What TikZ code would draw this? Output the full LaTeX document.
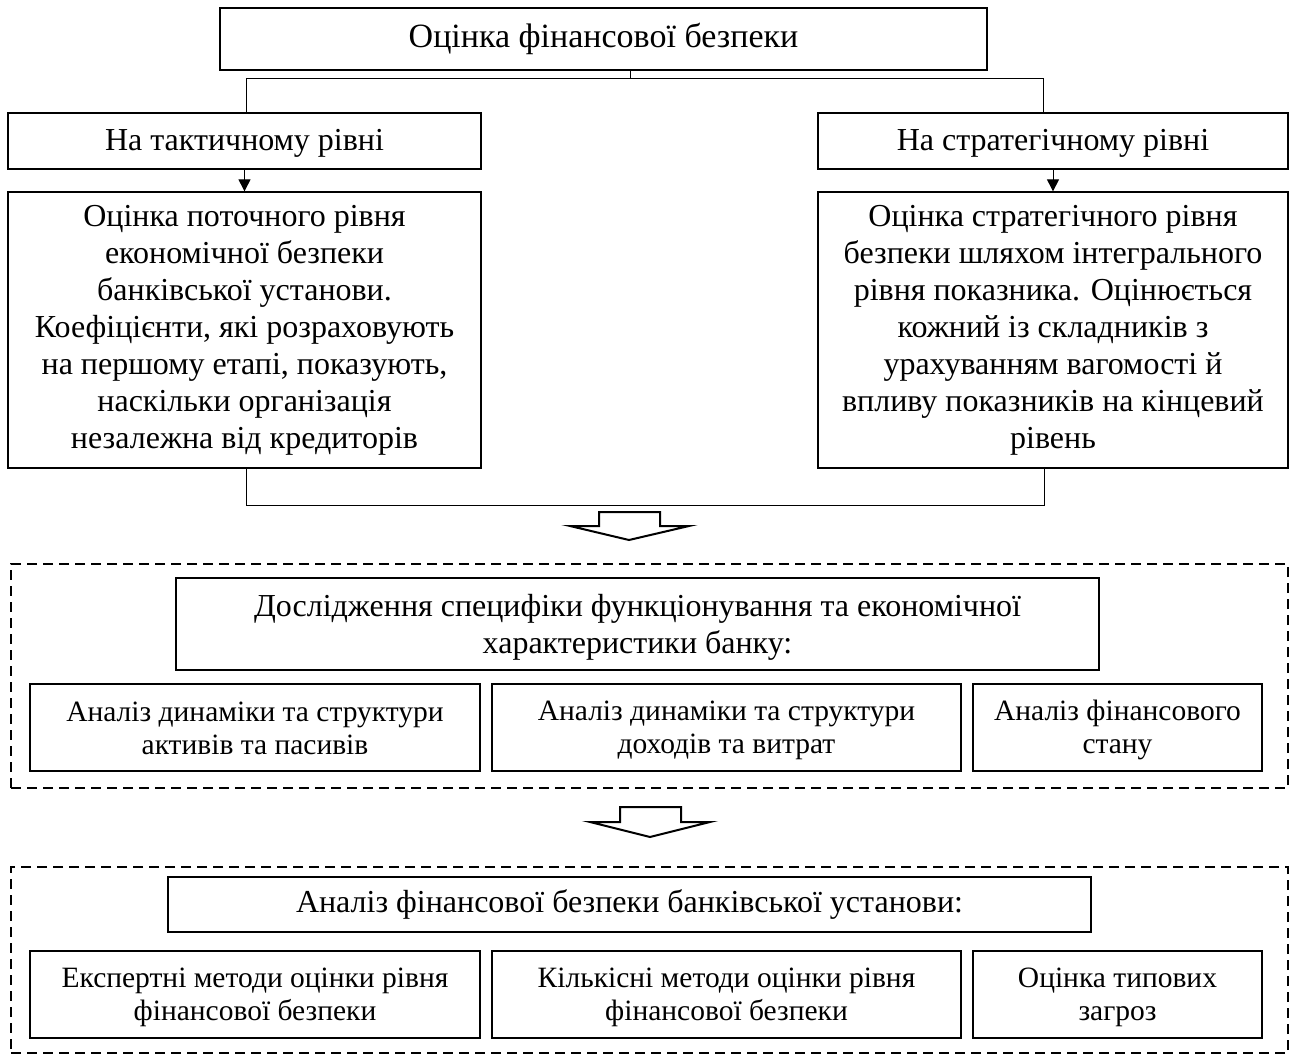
\documentclass[tikz,border=0pt]{standalone}
\usepackage{fontspec}
\setmainfont{Liberation Serif}
\usetikzlibrary{arrows.meta}
\newcommand{\topst}[1]{\rule{0pt}{#1}}
\newcommand{\botst}[1]{\rule[-#1]{0pt}{#1}}
\begin{document}
\begin{tikzpicture}[x=1pt,y=-1pt,
  box/.style={draw,line width=1.3pt,inner sep=0pt,align=center,font=\fontsize{32}{37}\selectfont},
  rowbox/.style={box,font=\fontsize{29.5}{33}\selectfont},
  dashbox/.style={draw,line width=1.6pt,dash pattern=on 10pt off 6pt,inner sep=0pt},
  conn/.style={line width=1pt},
  blockarrow/.style={line width=2pt,line join=miter}]
\useasboundingbox (0,0) rectangle (1296,1057);
% top
\node[box,minimum width=767pt,minimum height=62pt,font=\fontsize{34}{39}\selectfont] (top) at (603.5,39) {Оцінка фінансової безпеки};
\node[box,minimum width=473pt,minimum height=56pt] (tact) at (244.5,141) {\topst{25pt}На тактичному рівні\botst{5pt}};
\node[box,minimum width=470pt,minimum height=56pt] (strat) at (1053,141) {\topst{25pt}На стратегічному рівні\botst{5pt}};
\node[box,minimum width=473pt,minimum height=276pt] (tactbig) at (244.5,330) {Оцінка поточного рівня\\економічної безпеки\\банківської установи.\\Коефіцієнти, які розраховують\\на першому етапі, показують,\\наскільки організація\\незалежна від кредиторів};
\node[box,minimum width=470pt,minimum height=276pt] (stratbig) at (1053,330) {Оцінка стратегічного рівня\\безпеки шляхом інтегрального\\рівня показника. Оцінюється\\кожний із складників з\\урахуванням вагомості й\\впливу показників на кінцевий\\рівень};
% connectors top
\coordinate (j0) at (630,79);
\coordinate (jl) at (246,79);
\coordinate (jr) at (1043,79);
\draw[conn] (top.south -| j0) -- (j0);
\draw[conn] (tact.north -| jl) -- (jl) -- (jr) -- (strat.north -| jr);
\draw[conn,-{Triangle[length=12pt,width=12pt]}] (tact.south) -- (tactbig.north);
\draw[conn,-{Triangle[length=12pt,width=12pt]}] (strat.south) -- (stratbig.north);
\coordinate (bl) at (246,505);
\coordinate (br) at (1044,505);
\draw[conn] (tactbig.south -| bl) -- (bl) -- (br) -- (stratbig.south -| br);
% block arrow 1
\draw[blockarrow] (599,526) -- (599,512) -- (660,512) -- (660,526) -- (689,526) -- (629,540) -- (570,526) -- cycle;
% dashed group 1
\node[dashbox,minimum width=1277pt,minimum height=224pt] (grp1) at (649.5,676) {};
\node[box,minimum width=923pt,minimum height=92pt] (title1) at (637.5,624) {\topst{28pt}Дослідження специфіки функціонування та економічної\\характеристики банку:\botst{7pt}};
\node[rowbox,minimum width=450pt,minimum height=87pt] (r1a) at (255,727.5) {\topst{26pt}Аналіз динаміки та структури\\активів та пасивів\botst{6pt}};
\node[rowbox,minimum width=469pt,minimum height=87pt] (r1b) at (726.5,727.5) {\topst{26pt}Аналіз динаміки та структури\\доходів та витрат\botst{6pt}};
\node[rowbox,minimum width=289pt,minimum height=87pt] (r1c) at (1117.5,727.5) {\topst{26pt}Аналіз фінансового\\стану\botst{6pt}};
% block arrow 2
\draw[blockarrow] (620,822) -- (620,807) -- (681,807) -- (681,822) -- (710,822) -- (650,837) -- (590,822) -- cycle;
% dashed group 2
\node[dashbox,minimum width=1277pt,minimum height=186pt] (grp2) at (649.5,960) {};
\node[box,minimum width=923pt,minimum height=55pt] (title2) at (629.5,904.5) {Аналіз фінансової безпеки банківської установи:};
\node[rowbox,minimum width=450pt,minimum height=87pt] (r2a) at (255,994.5) {\topst{26pt}Експертні методи оцінки рівня\\фінансової безпеки\botst{6pt}};
\node[rowbox,minimum width=469pt,minimum height=87pt] (r2b) at (726.5,994.5) {\topst{26pt}Кількісні методи оцінки рівня\\фінансової безпеки\botst{6pt}};
\node[rowbox,minimum width=289pt,minimum height=87pt] (r2c) at (1117.5,994.5) {\topst{26pt}Оцінка типових\\загроз\botst{6pt}};
\end{tikzpicture}
\end{document}
